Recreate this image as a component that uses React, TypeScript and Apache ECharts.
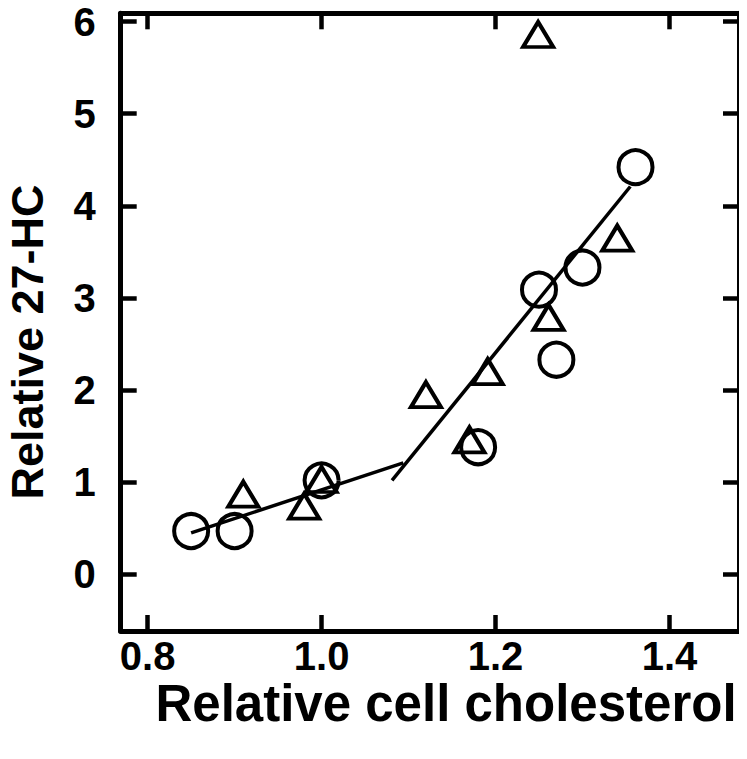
import React, { useEffect, useRef } from "react";
import * as echarts from "echarts";

const xTicks = [0.8, 1.0, 1.2, 1.4];
const yTicks = [0, 1, 2, 3, 4, 5, 6];

const circlePoints: [number, number][] = [
  [0.85, 0.47],
  [0.9, 0.47],
  [1.0, 1.02],
  [1.18, 1.38],
  [1.25, 3.09],
  [1.27, 2.33],
  [1.3, 3.33],
  [1.361, 4.42],
];

const trianglePoints: [number, number][] = [
  [0.91, 0.87],
  [0.98, 0.74],
  [1.0, 1.03],
  [1.12, 1.95],
  [1.17, 1.46],
  [1.191, 2.2],
  [1.249, 5.86],
  [1.261, 2.79],
  [1.34, 3.65],
];

const lowFit: [number, number][] = [
  [0.85, 0.45],
  [1.094, 1.21],
];

const highFit: [number, number][] = [
  [1.081, 1.02],
  [1.355, 4.21],
];

const xTitle = "Relative cell cholesterol";
const yTitle = "Relative 27-HC";

const FONT = "Liberation Sans, Arial, Helvetica, sans-serif";

export default function App() {
  const ref = useRef<HTMLDivElement>(null);
  useEffect(() => {
    if (!ref.current) return;
    const chart = echarts.init(ref.current, undefined, { renderer: "svg" });
    const xMin = 0.769, xMax = 1.48, yMin = -0.615, yMax = 6.09;
    const mkX = (pos: string, labels: boolean) => ({
      type: "value",
      position: pos,
      min: xMin,
      max: xMax,
      splitLine: { show: false },
      axisLine: { show: true, onZero: false, lineStyle: { color: "#000", width: 5 } },
      axisTick: {
        show: true,
        inside: true,
        length: 16,
        customValues: xTicks,
        lineStyle: { color: "#000", width: 4.5 },
      },
      axisLabel: {
        show: labels,
        customValues: xTicks,
        formatter: (v: number) => v.toFixed(1),
        fontSize: 40,
        fontWeight: "bold",
        fontFamily: FONT,
        color: "#000",
        margin: 8,
        lineHeight: 34,
      },
    });
    const mkY = (pos: string, labels: boolean) => ({
      type: "value",
      position: pos,
      min: yMin,
      max: yMax,
      splitLine: { show: false },
      axisLine: { show: true, onZero: false, lineStyle: { color: "#000", width: 5 } },
      axisTick: {
        show: true,
        inside: true,
        length: 16,
        customValues: yTicks,
        lineStyle: { color: "#000", width: 4.5 },
      },
      axisLabel: {
        show: labels,
        customValues: yTicks,
        formatter: (v: number) => String(v),
        fontSize: 40,
        fontWeight: "bold",
        fontFamily: FONT,
        color: "#000",
        margin: 25,
        lineHeight: 34,
      },
    });
    chart.setOption({
      animation: false,
      backgroundColor: "#fff",
      grid: { left: 120.7, right: 8, top: 13.3, bottom: 128 },
      xAxis: [mkX("bottom", true), mkX("top", false)],
      yAxis: [mkY("left", true), mkY("right", false)],
      graphic: [
        {
          type: "text",
          x: 446,
          y: 703,
          style: {
            text: xTitle,
            font: `bold 51px ${FONT}`,
            lineHeight: 40,
            fill: "#000",
            align: "center",
            verticalAlign: "middle",
          },
        },
        {
          type: "text",
          x: 27,
          y: 342,
          rotation: Math.PI / 2,
          style: {
            text: yTitle,
            font: `bold 45px ${FONT}`,
            fill: "#000",
            align: "center",
            verticalAlign: "middle",
          },
        },
      ],
      series: [
        {
          type: "line",
          data: lowFit,
          symbol: "none",
          lineStyle: { color: "#000", width: 3.5 },
          z: 1,
        },
        {
          type: "line",
          data: highFit,
          symbol: "none",
          lineStyle: { color: "#000", width: 3.5 },
          z: 1,
        },
        {
          type: "scatter",
          data: circlePoints,
          symbol: "circle",
          symbolSize: 34,
          itemStyle: { color: "transparent", borderColor: "#000", borderWidth: 4, opacity: 1 },
          z: 2,
        },
        {
          type: "scatter",
          data: trianglePoints,
          symbol: "triangle",
          symbolSize: [30, 25],
          itemStyle: { color: "transparent", borderColor: "#000", borderWidth: 4, opacity: 1 },
          z: 2,
        },
      ],
    });
    return () => chart.dispose();
  }, []);
  return <div ref={ref} style={{ width: 747, height: 759, margin: -8 }} />;
}
